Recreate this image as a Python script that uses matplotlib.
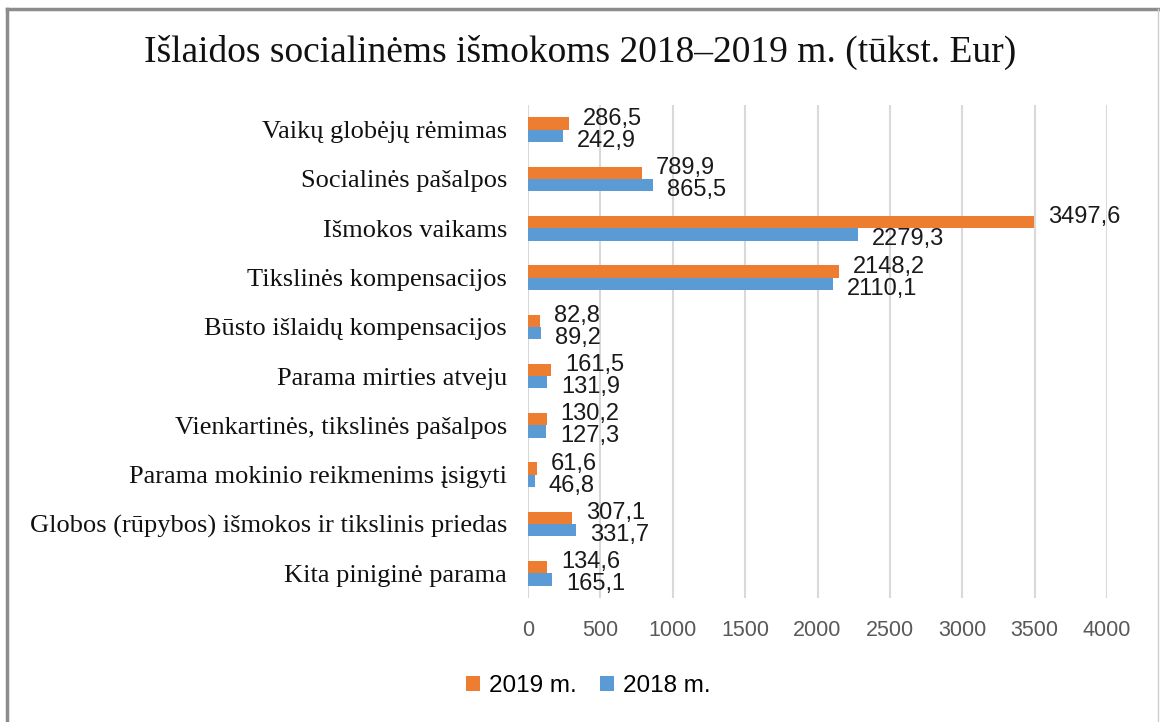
import numpy as np
import matplotlib
matplotlib.use("Agg")
import matplotlib.pyplot as plt
from matplotlib.lines import Line2D

categories = [
    "Vaikų globėjų rėmimas",
    "Socialinės pašalpos",
    "Išmokos vaikams",
    "Tikslinės kompensacijos",
    "Būsto išlaidų kompensacijos",
    "Parama mirties atveju",
    "Vienkartinės, tikslinės pašalpos",
    "Parama mokinio reikmenims įsigyti",
    "Globos (rūpybos) išmokos ir tikslinis priedas",
    "Kita piniginė parama",
]
values_2019 = [286.5, 789.9, 3497.6, 2148.2, 82.8, 161.5, 130.2, 61.6, 307.1, 134.6]
values_2018 = [242.9, 865.5, 2279.3, 2110.1, 89.2, 131.9, 127.3, 46.8, 331.7, 165.1]
ticks = [0, 500, 1000, 1500, 2000, 2500, 3000, 3500, 4000]

ORANGE = "#ed7d31"
BLUE = "#5b9bd5"
SERIF = ["Liberation Serif", "DejaVu Serif"]
SANS = ["Liberation Sans", "DejaVu Sans"]

W, H = 1160, 722


def fmt(v):
    # Lithuanian decimal comma
    return f"{v:.1f}".replace(".", ",")


fig = plt.figure(figsize=(W / 100, H / 100), dpi=100)

# chart frame: dark on left/top, light on right (as in the screenshot)
fig.add_artist(Line2D([7 / W, 7 / W], [0, 1 - 9 / H], transform=fig.transFigure,
                      color="#8c8c8c", linewidth=2.5))
fig.add_artist(Line2D([7 / W, 1158 / W], [1 - 9 / H, 1 - 9 / H], transform=fig.transFigure,
                      color="#8c8c8c", linewidth=2.5))
fig.add_artist(Line2D([1158 / W, 1158 / W], [0, 1 - 9 / H], transform=fig.transFigure,
                      color="#cfcfcf", linewidth=1))

ax = fig.add_axes([528 / W, 1 - 598 / H, (1107 - 528) / W, (598 - 105) / H])

y = np.arange(len(categories))
h = 0.25
ax.barh(y - h / 2, values_2019, height=h, color=ORANGE, label="2019 m.")
ax.barh(y + h / 2, values_2018, height=h, color=BLUE, label="2018 m.")

for i in range(len(categories)):
    ax.annotate(fmt(values_2019[i]), (values_2019[i], y[i] - h / 2),
                xytext=(10, 3.5), textcoords="offset points", va="center",
                fontsize=17, family=SANS, color="#1a1a1a")
    ax.annotate(fmt(values_2018[i]), (values_2018[i], y[i] + h / 2),
                xytext=(10, -3.5), textcoords="offset points", va="center",
                fontsize=17, family=SANS, color="#1a1a1a")

ax.set_xlim(0, 4000)
ax.set_ylim(len(categories) - 0.5, -0.5)
ax.set_xticks(ticks)
ax.set_xticklabels([str(t) for t in ticks], family=SANS, fontsize=15.5, color="#595959")
ax.set_yticks(y)
ax.set_yticklabels(categories, family=SERIF, fontsize=19, color="#111111")
ax.tick_params(axis="both", length=0)
ax.tick_params(axis="x", pad=16)
ax.tick_params(axis="y", pad=15)
ax.grid(axis="x", color="#d9d9d9", linewidth=1.5)
ax.set_axisbelow(True)
for s in ax.spines.values():
    s.set_visible(False)

fig.text(0.5, 1 - 52 / H, "Išlaidos socialinėms išmokoms 2018–2019 m. (tūkst. Eur)",
         ha="center", va="center", family=SERIF, fontsize=27, color="#111111")

fig.legend(loc="center", bbox_to_anchor=(588 / W, 1 - 686 / H), ncol=2,
           frameon=False, prop={"family": SANS, "size": 17.5},
           handlelength=0.6, handleheight=0.6, handletextpad=0.35, columnspacing=0.95,
           borderaxespad=0, borderpad=0)

fig.savefig("out.png", dpi=100)
